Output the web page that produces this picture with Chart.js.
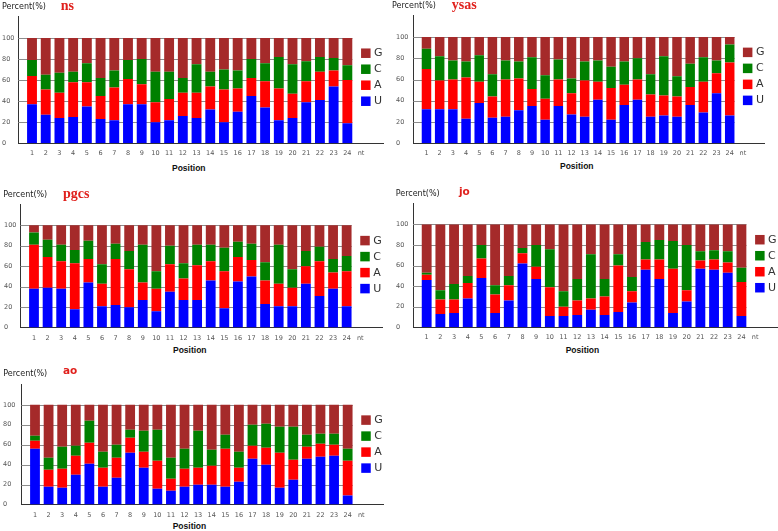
<!DOCTYPE html>
<html>
<head>
<meta charset="utf-8">
<script src="https://cdn.jsdelivr.net/npm/chart.js@4.4.1/dist/chart.umd.min.js"></script>
<style>
  body { margin: 0; background: #fff; width: 778px; height: 531px; position: relative; overflow: hidden; font-family: "DejaVu Sans", sans-serif; }
  canvas { position: absolute; }
  .pct { position: absolute; white-space: nowrap; color: #222; font-size: 8px; line-height: 10px; }
  .ttl { position: absolute; white-space: nowrap; color: #e0201c; line-height: 16px; }
  .pos { position: absolute; white-space: nowrap; color: #111; font: bold 8.5px "Liberation Sans", sans-serif; line-height: 10px; }
</style>
</head>
<body>
<script>
// positions along the sequence + extra tick at the end
const positions = ['1','2','3','4','5','6','7','8','9','10','11','12','13','14','15','16','17','18','19','20','21','22','23','24'];
const xTickLabels = ['1','2','3','4','5','6','7','8','9','10','11','12','13','14','15','16','17','18','19','20','21','22','23','24','nt'];
const yTicks = [0, 20, 40, 60, 80, 100];
const bases = ['U', 'A', 'C', 'G'];

// ns
const nsU = [37,27,24,25,35,23,22,37,37,20,22,26,24,32,20,30,45,34,22,24,39,41,54,19];
const nsA = [27,24,24,33,23,22,31,24,19,19,20,22,24,22,31,22,17,25,30,23,20,27,15,41];
const nsC = [15,14,19,10,18,17,16,18,24,29,26,14,27,14,19,17,18,17,30,28,19,14,12,14];
const nsG = [21,35,33,32,24,38,31,21,20,32,32,38,25,32,30,31,20,24,18,25,22,18,19,26];

// ysas
const ysasU = [32,32,32,23,38,24,25,31,35,22,35,27,25,41,22,36,41,25,26,25,36,29,47,26];
const ysasA = [38,27,28,39,20,20,35,30,16,20,25,20,34,17,30,19,19,21,19,19,17,29,19,50];
const ysasC = [19,23,18,15,25,21,18,16,30,22,19,14,18,20,20,22,20,19,37,19,22,23,12,17];
const ysasG = [11,18,22,23,17,35,22,23,19,36,21,39,23,22,28,23,20,35,18,37,25,19,22,7];

// pgcs
const pgcsU = [38,39,38,18,44,21,22,20,27,16,35,27,27,46,19,45,50,23,21,21,43,31,38,21];
const pgcsA = [43,30,27,45,23,22,45,37,17,22,27,21,34,19,36,24,16,23,22,18,17,34,16,34];
const pgcsC = [12,17,16,13,18,19,15,18,37,17,18,15,20,16,23,15,16,18,38,18,15,14,13,15];
const pgcsG = [7,14,19,24,15,38,18,25,19,45,20,37,19,19,22,16,18,36,19,43,25,21,33,30];

// jo
const joU = [46,13,14,28,48,14,26,62,47,11,11,12,17,12,15,24,56,47,14,25,57,56,53,11];
const joA = [5,14,13,15,19,18,15,10,12,28,9,14,11,18,45,11,10,19,43,11,8,10,10,33];
const joC = [2,9,15,7,13,9,9,5,21,37,15,21,43,17,11,14,17,19,27,44,9,9,11,14];
const joG = [47,64,58,50,20,59,50,23,20,24,65,53,29,53,29,51,17,15,16,20,26,25,26,42];

// ao
const aoU = [56,18,17,30,41,18,27,52,37,16,14,18,20,20,18,23,46,40,17,25,46,48,49,9];
const aoA = [8,17,19,19,21,19,20,15,16,28,12,18,17,19,38,14,13,17,35,20,12,13,11,35];
const aoC = [5,12,22,10,22,16,13,8,21,31,21,20,37,16,14,16,21,24,26,33,12,10,11,12];
const aoG = [31,53,42,41,16,47,40,25,26,25,53,44,26,45,30,47,20,19,22,22,30,29,29,44];

const baseColors = { U: '#0000ff', A: '#ff0000', C: '#008000', G: '#a52a2a' };

// where each panel sits on the page
const panels = [
  { name: 'ns', serif: true, series: [nsU, nsA, nsC, nsG], left: 2, x0: 18.3, x1: 383, yTop: 15, yBottom: 143.3,
    pct: [2, 6.7], ttl: [60.7, 7], pos: [172, 167.7] },
  { name: 'ysas', serif: true, series: [ysasU, ysasA, ysasC, ysasG], left: 396, x0: 413.3, x1: 764, yTop: 13.5, yBottom: 142.7,
    pct: [392, 5.5], ttl: [451.7, 6.5], pos: [560, 165.5] },
  { name: 'pgcs', serif: true, series: [pgcsU, pgcsA, pgcsC, pgcsG], left: 4, x0: 20.4, x1: 381.7, yTop: 202.7, yBottom: 327.3,
    pct: [3.3, 194.7], ttl: [63, 195], pos: [173, 350] },
  { name: 'jo', serif: false, series: [joU, joA, joC, joG], left: 396, x0: 413, x1: 776.7, yTop: 202, yBottom: 327.3,
    pct: [395.7, 194], ttl: [459, 194], pos: [565.7, 350] },
  { name: 'ao', serif: false, series: [aoU, aoA, aoC, aoG], left: 3, x0: 21.4, x1: 382.7, yTop: 382.7, yBottom: 504.3,
    pct: [3.3, 374.3], ttl: [63, 373.5], pos: [172.7, 525.7] }
];

const X_MAX = 26.6;
const PAD_TOP = 6;
const PAD_RIGHT = 2;
const X_H = 14;

Chart.defaults.font.family = '"DejaVu Sans", sans-serif';
Chart.defaults.font.size = 6.5;
Chart.defaults.color = '#555';

// grid lines only under the bars, and the legend in the "nt" column
const gridAndLegend = {
  id: 'gridAndLegend',
  beforeDatasetsDraw(chart) {
    const { ctx, chartArea, scales: { x, y } } = chart;
    const right = x.getPixelForValue(positions.length + 0.37);
    ctx.save();
    ctx.strokeStyle = '#8c8c8c';
    ctx.lineWidth = 1;
    yTicks.forEach(v => {
      if (!v) return;
      const py = Math.round(y.getPixelForValue(v)) + 0.5;
      ctx.beginPath();
      ctx.moveTo(chartArea.left, py);
      ctx.lineTo(right, py);
      ctx.stroke();
    });
    ctx.restore();
  },
  afterDraw(chart) {
    const { ctx, scales: { x, y } } = chart;
    const lx = x.getPixelForValue(positions.length + 1);
    let ly = y.getPixelForValue(100) + 10.5;
    ctx.save();
    ctx.font = '11px "DejaVu Sans", sans-serif';
    ctx.textBaseline = 'middle';
    chart.data.datasets.slice().reverse().forEach(ds => {
      ctx.fillStyle = ds.backgroundColor;
      ctx.fillRect(lx, ly, 9.5, 9.5);
      ctx.fillStyle = '#333';
      ctx.fillText(ds.label, lx + 13, ly + 5);
      ly += 16;
    });
    ctx.restore();
  }
};

function addText(cls, text, x, y, style) {
  const d = document.createElement('div');
  d.className = cls;
  d.textContent = text;
  d.style.left = x + 'px';
  d.style.top = y + 'px';
  if (style) d.style.font = style;
  document.body.appendChild(d);
}

function drawPanel(p) {
  const canvas = document.createElement('canvas');
  const top = p.yTop - PAD_TOP;
  const w = Math.round(p.x1 - p.left + PAD_RIGHT);
  const h = Math.round(p.yBottom - top + X_H);
  canvas.width = w;
  canvas.height = h;
  canvas.style.left = p.left + 'px';
  canvas.style.top = top + 'px';
  canvas.style.width = w + 'px';
  canvas.style.height = h + 'px';
  document.body.appendChild(canvas);

  const yW = p.x0 - p.left;
  const xH = h - (p.yBottom - top);

  new Chart(canvas, {
    type: 'bar',
    data: {
      labels: positions,
      datasets: bases.map((b, i) => ({
        label: b,
        data: p.series[i],
        backgroundColor: baseColors[b],
        borderWidth: 0
      }))
    },
    options: {
      responsive: false,
      animation: false,
      layout: { padding: { left: 0, top: PAD_TOP, right: PAD_RIGHT, bottom: 0 } },
      plugins: { legend: { display: false }, tooltip: { enabled: false } },
      scales: {
        x: {
          type: 'linear',
          stacked: true,
          offset: false,
          min: 0,
          max: X_MAX,
          grid: { display: false, drawTicks: false },
          border: { display: true, color: '#333', width: 1 },
          afterBuildTicks: s => { s.ticks = xTickLabels.map((_, i) => ({ value: i + 1 })); },
          ticks: {
            autoSkip: false,
            maxRotation: 0,
            padding: 6.5,
            callback: v => xTickLabels[v - 1] || ''
          },
          afterFit: s => { s.height = xH; }
        },
        y: {
          stacked: true,
          min: 0,
          max: 120,
          grid: { display: false, drawTicks: false },
          border: { display: true, color: '#333', width: 1 },
          afterBuildTicks: s => { s.ticks = yTicks.map(v => ({ value: v })); },
          ticks: { crossAlign: 'far', padding: 4 },
          afterFit: s => { s.width = yW; }
        }
      }
    },
    plugins: [gridAndLegend]
  });

  addText('pct', 'Percent(%)', p.pct[0], p.pct[1] - 5);
  addText('ttl', p.name, p.ttl[0], p.ttl[1] - 9.5,
    p.serif ? 'bold 14px "Liberation Serif", serif' : 'bold 10.5px "DejaVu Sans", sans-serif');
  addText('pos', 'Position', p.pos[0], p.pos[1] - 5);
}

panels.forEach(drawPanel);
</script>
</body>
</html>
